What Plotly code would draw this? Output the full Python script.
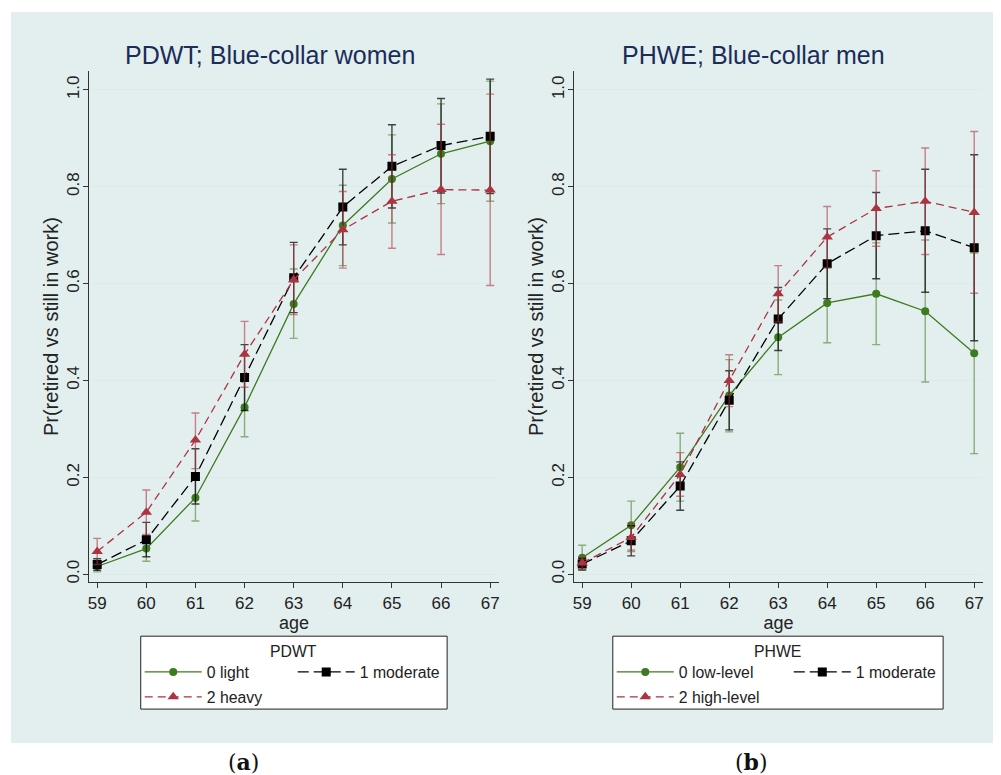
import plotly.graph_objects as go

# The page body has an 8px margin, so the figure is sized to end at the window edge
PAGE_W, PAGE_H, BODY = 1001, 775, 8
W, H = PAGE_W - BODY, PAGE_H - BODY

ages = [59, 60, 61, 62, 63, 64, 65, 66, 67]

# ---- Panel (a): PDWT; Blue-collar women ----
a_light = [0.016, 0.053, 0.158, 0.345, 0.558, 0.720, 0.816, 0.868, 0.894]
a_light_lo = [0.005, 0.027, 0.110, 0.284, 0.487, 0.637, 0.725, 0.765, 0.770]
a_light_hi = [0.027, 0.079, 0.206, 0.406, 0.630, 0.803, 0.907, 0.971, 1.018]

a_mod = [0.020, 0.071, 0.202, 0.406, 0.612, 0.758, 0.842, 0.885, 0.904]
a_mod_lo = [0.008, 0.036, 0.145, 0.338, 0.540, 0.680, 0.756, 0.787, 0.786]
a_mod_hi = [0.032, 0.107, 0.259, 0.474, 0.685, 0.836, 0.928, 0.982, 1.022]

a_heavy = [0.047, 0.128, 0.277, 0.454, 0.608, 0.711, 0.770, 0.794, 0.793]
a_heavy_lo = [0.020, 0.082, 0.218, 0.386, 0.536, 0.632, 0.673, 0.660, 0.596]
a_heavy_hi = [0.074, 0.174, 0.333, 0.522, 0.680, 0.790, 0.866, 0.929, 0.991]

# ---- Panel (b): PHWE; Blue-collar men ----
b_low = [0.034, 0.101, 0.221, 0.369, 0.489, 0.560, 0.579, 0.543, 0.456]
b_low_lo = [0.008, 0.050, 0.151, 0.294, 0.412, 0.478, 0.474, 0.397, 0.249]
b_low_hi = [0.060, 0.151, 0.291, 0.443, 0.566, 0.642, 0.684, 0.690, 0.663]

b_mod = [0.021, 0.069, 0.182, 0.359, 0.527, 0.641, 0.699, 0.709, 0.674]
b_mod_lo = [0.009, 0.038, 0.132, 0.298, 0.462, 0.569, 0.610, 0.582, 0.482]
b_mod_hi = [0.033, 0.100, 0.232, 0.420, 0.592, 0.713, 0.788, 0.836, 0.866]

b_high = [0.023, 0.076, 0.206, 0.400, 0.579, 0.696, 0.755, 0.770, 0.747]
b_high_lo = [0.010, 0.047, 0.161, 0.346, 0.521, 0.633, 0.677, 0.660, 0.580]
b_high_hi = [0.036, 0.105, 0.251, 0.453, 0.637, 0.759, 0.833, 0.880, 0.914]

y_ticks = [0.0, 0.2, 0.4, 0.6, 0.8, 1.0]

FONT = "Liberation Sans, Arial, sans-serif"
GREEN, GREEN_ERR = "#3e7a1f", "rgba(72,125,40,0.58)"
BLACK, BLACK_ERR = "#000000", "rgba(0,0,0,0.72)"
RED, RED_ERR = "#ac3340", "rgba(178,52,68,0.6)"
TEAL = "#e3efef"


def px(x):
    """page pixel -> paper fraction"""
    return (x - BODY) / W


def py(y):
    return 1 - (y - BODY) / H


fig = go.Figure()


def add_series(name, vals, lo, hi, color, ecolor, dash, symbol, size, xa, ya, legend):
    fig.add_trace(go.Scatter(
        x=ages, y=vals, name=name, mode="lines+markers",
        line=dict(color=color, width=1.3, dash=dash),
        marker=dict(symbol=symbol, size=size, color=color, line=dict(width=0)),
        error_y=dict(type="data", symmetric=False,
                     array=[h - v for h, v in zip(hi, vals)],
                     arrayminus=[v - l for v, l in zip(vals, lo)],
                     color=ecolor, thickness=1.4, width=4),
        xaxis=xa, yaxis=ya, legend=legend, hoverinfo="x+y",
    ))


add_series("0 light", a_light, a_light_lo, a_light_hi, GREEN, GREEN_ERR, "solid", "circle", 8, "x", "y", "legend")
add_series("1 moderate", a_mod, a_mod_lo, a_mod_hi, BLACK, BLACK_ERR, "11px,5px", "square", 9, "x", "y", "legend")
add_series("2 heavy", a_heavy, a_heavy_lo, a_heavy_hi, RED, RED_ERR, "8px,5px", "triangle-up", 10, "x", "y", "legend2")

add_series("0 low-level", b_low, b_low_lo, b_low_hi, GREEN, GREEN_ERR, "solid", "circle", 8, "x2", "y2", "legend3")
add_series("1 moderate", b_mod, b_mod_lo, b_mod_hi, BLACK, BLACK_ERR, "11px,5px", "square", 9, "x2", "y2", "legend3")
add_series("2 high-level", b_high, b_high_lo, b_high_hi, RED, RED_ERR, "8px,5px", "triangle-up", 10, "x2", "y2", "legend4")

xcommon = dict(range=[58.83, 67.18], tickvals=ages, ticks="outside", ticklen=5, tickcolor="#333",
               showline=True, linecolor="#333", linewidth=1, showgrid=False, zeroline=False,
               tickfont=dict(size=17, color="#222", family=FONT),
               title=dict(text="age", font=dict(size=18, color="#222", family=FONT), standoff=2))
ycommon = dict(range=[-0.0165, 1.039], tickvals=y_ticks, tickformat=".1f", tickangle=-90,
               ticks="outside", ticklen=5, tickcolor="#333", showline=True, linecolor="#333",
               linewidth=1, showgrid=True, gridcolor="#dceaea", gridwidth=1, zeroline=False,
               ticklabelstandoff=-3,
               tickfont=dict(size=17, color="#222", family=FONT),
               title=dict(text="Pr(retired vs still in work)", font=dict(size=20, color="#222", family=FONT),
                          standoff=0))

legend_common = dict(orientation="h", xanchor="left", yanchor="middle", bgcolor="rgba(0,0,0,0)",
                     borderwidth=0, font=dict(size=15.8, color="#222", family=FONT), itemwidth=57,
                     entrywidthmode="pixels", tracegroupgap=0)

fig.update_layout(
    width=W, height=H, margin=dict(l=0, r=0, t=0, b=0),
    paper_bgcolor="white", plot_bgcolor="white",
    font=dict(family=FONT),
    xaxis=dict(domain=[px(88), px(499)], anchor="y", **xcommon),
    yaxis=dict(domain=[py(583), py(71)], anchor="x", **ycommon),
    xaxis2=dict(domain=[px(574), px(984)], anchor="y2", **xcommon),
    yaxis2=dict(domain=[py(583), py(71)], anchor="x2", **ycommon),
    legend=dict(x=px(139), y=py(673), entrywidth=81, **legend_common),
    legend2=dict(x=px(139), y=py(698), entrywidth=81, **legend_common),
    legend3=dict(x=px(612), y=py(673), entrywidth=105, **legend_common),
    legend4=dict(x=px(612), y=py(698), entrywidth=105, **legend_common),
    shapes=[
        dict(type="rect", xref="paper", yref="paper", x0=px(10), x1=px(500), y0=py(744), y1=py(12),
             fillcolor=TEAL, line=dict(width=0), layer="below"),
        dict(type="rect", xref="paper", yref="paper", x0=px(500), x1=1, y0=py(744), y1=py(12),
             fillcolor=TEAL, line=dict(width=0), layer="below"),
        dict(type="rect", xref="paper", yref="paper", x0=px(140), x1=px(447), y0=py(710), y1=py(637),
             fillcolor="white", line=dict(width=1, color="#222"), layer="below"),
        dict(type="rect", xref="paper", yref="paper", x0=px(613), x1=px(944), y0=py(710), y1=py(637),
             fillcolor="white", line=dict(width=1, color="#222"), layer="below"),
    ],
    annotations=[
        dict(text="PDWT; Blue-collar women", x=px(270), y=py(55), xref="paper", yref="paper",
             showarrow=False, xanchor="center", yanchor="middle",
             font=dict(size=25, color="#1a2c58", family=FONT)),
        dict(text="PHWE; Blue-collar men", x=px(754), y=py(55), xref="paper", yref="paper",
             showarrow=False, xanchor="center", yanchor="middle",
             font=dict(size=25, color="#1a2c58", family=FONT)),
        dict(text="PDWT", x=px(293), y=py(652), xref="paper", yref="paper", showarrow=False,
             xanchor="center", yanchor="middle", font=dict(size=15.8, color="#222", family=FONT)),
        dict(text="PHWE", x=px(778), y=py(652), xref="paper", yref="paper", showarrow=False,
             xanchor="center", yanchor="middle", font=dict(size=15.8, color="#222", family=FONT)),
        dict(text="(<b>a</b>)", x=px(243), y=py(763), xref="paper", yref="paper", showarrow=False,
             xanchor="center", yanchor="middle", font=dict(size=22, color="#111", family="DejaVu Serif")),
        dict(text="(<b>b</b>)", x=px(752), y=py(763), xref="paper", yref="paper", showarrow=False,
             xanchor="center", yanchor="middle", font=dict(size=22, color="#111", family="DejaVu Serif")),
    ],
)

fig.write_html("out.html")
